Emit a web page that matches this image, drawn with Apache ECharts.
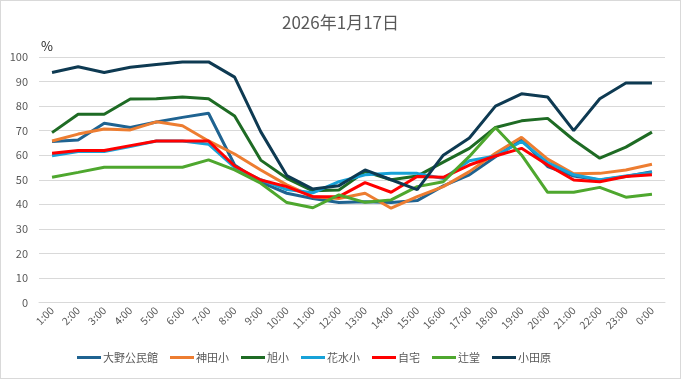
<!DOCTYPE html>
<html><head><meta charset="utf-8">
<script src="https://cdn.jsdelivr.net/npm/echarts@6/dist/echarts.min.js"></script>
<style>html,body{margin:0;padding:0;background:#fff}#c{width:679px;height:377px;border:1px solid #d9d9d9}</style>
</head><body><div id="c"></div>
<script>
const categories = ['1:00','2:00','3:00','4:00','5:00','6:00','7:00','8:00','9:00','10:00','11:00','12:00','13:00','14:00','15:00','16:00','17:00','18:00','19:00','20:00','21:00','22:00','23:00','0:00'];
const yTicks = [0,10,20,30,40,50,60,70,80,90,100];
const oono   = [65.6,66.2,73,71.3,73.5,75.4,77.1,56,49,44.5,42.4,40.7,41,40.7,41.5,47.5,52,59.4,66.2,55.4,51.5,49.9,51.3,53.3];
const kanda  = [65.8,68.6,70.7,70.3,73.6,72,65.8,60.5,54,47.9,43.1,42.4,44.5,38.4,43.1,47.2,53.3,60.8,67.3,58.4,52.4,52.6,54,56.3];
const asahi  = [69.2,76.7,76.7,82.9,83,83.7,83,76,58,50.6,45.5,45.8,53.3,50,51.5,57.2,62.8,71.3,74,75,66.2,58.8,63.3,69.4];
const hanamizu = [59.8,61.5,61.5,63.5,65.8,65.8,64.5,55,50,46,44.7,49.2,52,52.6,52.6,50.5,57.7,59.7,65.6,57,52,50,51.5,53];
const jitaku = [60.8,61.9,61.9,63.9,65.8,65.8,65.8,55.6,49.9,47.2,43.1,43.1,48.8,44.9,51.3,51,56,59.7,62.8,56,49.9,49.2,51.3,52];
const tsujido = [51,53,55.1,55.1,55.1,55.1,58.1,54,48.6,40.7,38.6,43.8,40.8,41.8,47.2,49.2,59.5,71.3,60.1,44.9,44.9,46.9,42.9,44.1];
const odawara = [93.7,96,93.7,95.8,96.9,98,98,91.8,69.6,51.7,46.2,47.6,54,50,46,60,67,80,85,83.7,70,83,89.4,89.4];

const names = ['大野公民館','神田小','旭小','花水小','自宅','辻堂','小田原'];
const dataSets = [oono,kanda,asahi,hanamizu,jitaku,tsujido,odawara];
const colors = ['#1f6391','#ed7d31','#1e6b24','#17a2d8','#ff0000','#4ea72e','#0e3a52'];
const font = '"Noto Sans CJK JP", "Noto Sans", sans-serif';

const chart = echarts.init(document.getElementById('c'));
chart.setOption({
  animation:false,
  textStyle:{fontFamily:font},
  title:[
    {text:'2026年1月17日', left:'center', top:8, textStyle:{fontSize:17, fontWeight:'normal', color:'#595959', fontFamily:font}},
    {text:'%', left:35, top:34, textStyle:{fontSize:13, fontWeight:'normal', color:'#262626', fontFamily:font}}
  ],
  legend:{
    left:71, top:346, icon:'rect', itemWidth:24, itemHeight:3, itemGap:12,
    textStyle:{fontSize:11, color:'#595959', fontFamily:font, padding:[0,0,0,-3]},
    data:names
  },
  grid:{left:38, right:15, top:56, bottom:75.5, containLabel:false},
  xAxis:{
    type:'category', data:categories, boundaryGap:true,
    axisLine:{lineStyle:{color:'#d9d9d9'}}, axisTick:{show:false},
    axisLabel:{rotate:45, fontSize:10.5, color:'#595959', interval:0, margin:6, fontFamily:font}
  },
  yAxis:{
    type:'value', min:0, max:100, interval:10,
    axisLine:{show:false}, axisTick:{show:false},
    splitLine:{lineStyle:{color:'#d9d9d9'}},
    axisLabel:{fontSize:11, color:'#595959', margin:11, fontFamily:font,
      formatter: v => yTicks.includes(v) ? String(v) : ''}
  },
  series: names.map((n,i)=>({
    name:n, type:'line', data:dataSets[i], showSymbol:false, symbol:'none',
    lineStyle:{width:3, color:colors[i]}, itemStyle:{color:colors[i]}
  }))
});
</script></body></html>
